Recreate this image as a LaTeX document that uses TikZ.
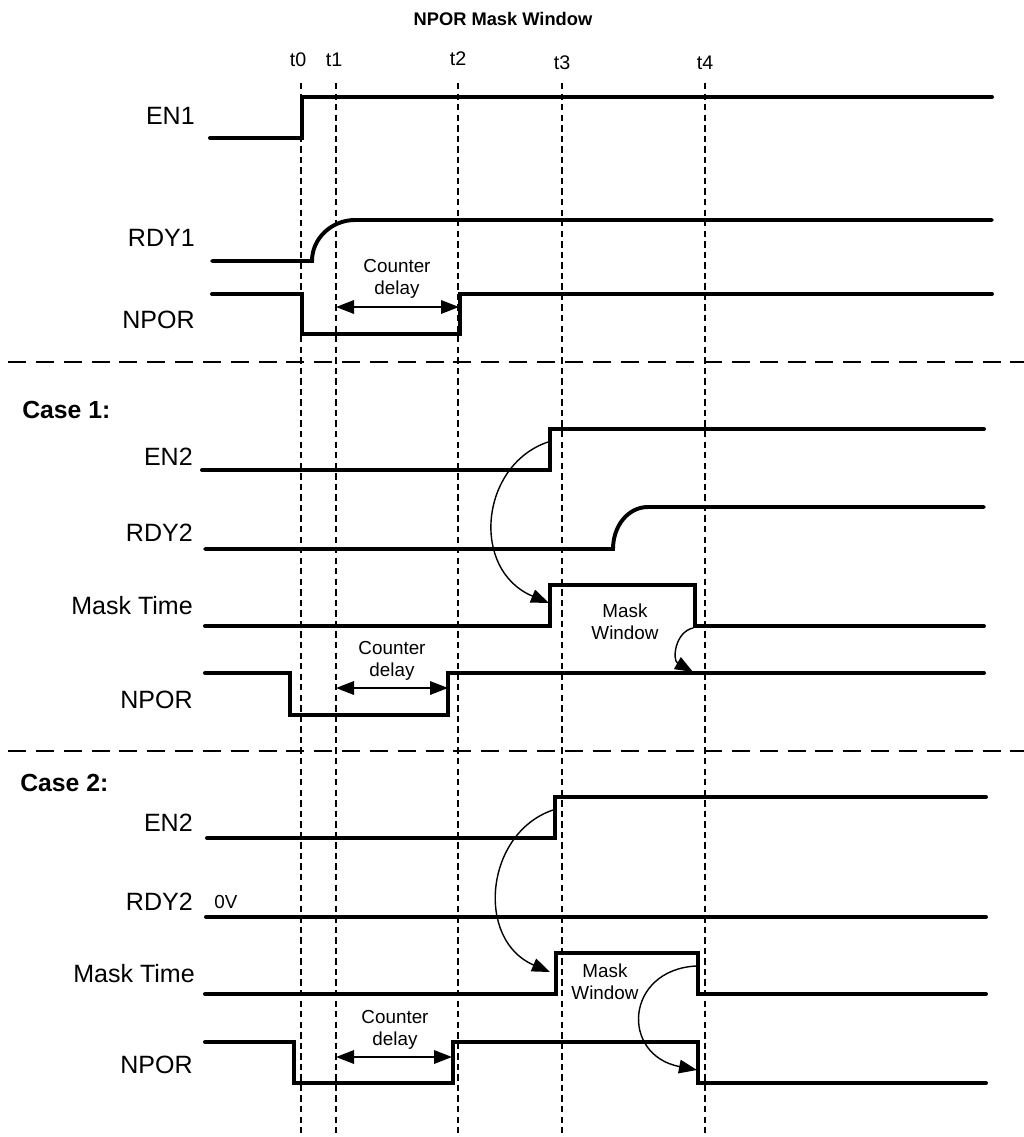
\documentclass[tikz,border=0pt]{standalone}
\usepackage{fontspec}
\setmainfont{Liberation Sans}
\usetikzlibrary{arrows.meta}

\begin{document}
\begin{tikzpicture}[x=0.025cm,y=-0.025cm,>={Triangle[length=4.5mm,width=3.4mm]},line cap=round,
  sig/.style={line width=2.8pt,line cap=round},
  tline/.style={line width=0.8pt,dash pattern=on 4.5pt off 3pt,line cap=butt},
  sepline/.style={line width=1.4pt,dash pattern=on 12.8pt off 7pt,line cap=butt},
  arr/.style={line width=1pt},
  signame/.style={anchor=east,inner sep=0pt,font=\fontsize{17.8}{21}\selectfont},
  note/.style={align=center,inner sep=0pt,font=\fontsize{13.4}{15.6}\selectfont},
  tname/.style={inner sep=0pt,font=\fontsize{14}{16}\selectfont},
  casehead/.style={anchor=west,inner sep=0pt,font=\bfseries\fontsize{17.6}{21}\selectfont}]
\useasboundingbox (0,0) rectangle (1024,1137);
\node[font=\bfseries\fontsize{13}{16}\selectfont] (title) at (503,19) {NPOR Mask Window};
% time markers
\node[tname] (t0) at (298,60) {t0};
\node[tname] (t1) at (334,60) {t1};
\node[tname] (t2) at (458,59) {t2};
\node[tname] (t3) at (562,63) {t3};
\node[tname] (t4) at (705,63) {t4};
\draw[tline] (301,83) -- (301,1137);
\draw[tline] (336,83) -- (336,1137);
\draw[tline] (t2 |- 0,83) -- (t2 |- 0,1137);
\draw[tline] (t3 |- 0,83) -- (t3 |- 0,1137);
\draw[tline] (t4 |- 0,83) -- (t4 |- 0,1137);
% first channel
\node[signame] (en1) at (195,116) {EN1};
\node[signame] (rdy1) at (195,238) {RDY1};
\node[signame] (npor0) at (195,320) {NPOR};
\draw[sig] (210,138) -- (302,138) -- (302,97) -- (992,97);
\draw[sig] (212,261) -- (312,261) .. controls (312,238) and (332,220) .. (355,220) -- (992,220);
\draw[sig] (212,294) -- (302,294) -- (302,334) -- (460,334) -- (460,294) -- (992,294);
\coordinate (cd0a) at (336,307);
\coordinate (cd0b) at (459,307);
\draw[arr,<->] (cd0a) -- (cd0b);
\node[note] (delay0) at (397,279) {Counter\\delay};
\draw[sepline] (8,362) -- (1024,362);
% case 1
\node[casehead] (case1) at (22,410) {Case 1:};
\node[signame] (en2a) at (193,457) {EN2};
\node[signame] (rdy2a) at (193,533) {RDY2};
\node[signame] (maska) at (193,606) {Mask Time};
\node[signame] (npora) at (193,700) {NPOR};
\draw[sig] (202,470) -- (550,470) -- (550,429) -- (984,429);
\draw[sig] (205,549) -- (613,549) .. controls (613,526) and (628,507) .. (648,507) -- (984,507);
\draw[sig] (205,626) -- (550,626) -- (550,585) -- (695,585) -- (695,626) -- (984,626);
\draw[sig] (205,673) -- (290,673) -- (290,715) -- (448,715) -- (448,673) -- (984,673);
\node[note] (wina) at (625,622) {Mask\\Window};
\coordinate (cd1a) at (336,688);
\coordinate (cd1b) at (448,688);
\draw[arr,<->] (cd1a) -- (cd1b);
\node[note] (delay1) at (392,661) {Counter\\delay};
\coordinate (ca1s) at (548,442);
\coordinate (ca1e) at (549,603);
\draw[arr,->] (ca1s) .. controls (480,465) and (470,570) .. (ca1e);
\coordinate (ca2s) at (693,628);
\coordinate (ca2e) at (693,672);
\draw[arr,->] (ca2s) .. controls (675,632) and (672,660) .. (ca2e);
\draw[sepline] (8,751) -- (1024,751);
% case 2
\node[casehead] (case2) at (20,783) {Case 2:};
\node[signame] (en2b) at (193,823) {EN2};
\node[signame] (rdy2b) at (193,902) {RDY2};
\node[signame] (maskb) at (195,974) {Mask Time};
\node[signame] (nporb) at (193,1065) {NPOR};
\node[note,anchor=west] (zero) at (214,902) {0V};
\draw[sig] (207,838) -- (555,838) -- (555,797) -- (986,797);
\draw[sig] (206,917) -- (986,917);
\draw[sig] (205,994) -- (556,994) -- (556,953) -- (698,953) -- (698,994) -- (986,994);
\draw[sig] (205,1042) -- (294,1042) -- (294,1083) -- (453,1083) -- (453,1042) -- (698,1042) -- (698,1083) -- (986,1083);
\node[note] (winb) at (605,982) {Mask\\Window};
\coordinate (cd2a) at (336,1057);
\coordinate (cd2b) at (452,1057);
\draw[arr,<->] (cd2a) -- (cd2b);
\node[note] (delay2) at (395,1030) {Counter\\delay};
\coordinate (cb1s) at (553,810);
\coordinate (cb1e) at (550,972);
\draw[arr,->] (cb1s) .. controls (485,833) and (475,940) .. (cb1e);
\coordinate (cb2s) at (696,966);
\coordinate (cb2e) at (697,1070);
\draw[arr,->] (cb2s) .. controls (625,970) and (620,1055) .. (cb2e);
\end{tikzpicture}
\end{document}
